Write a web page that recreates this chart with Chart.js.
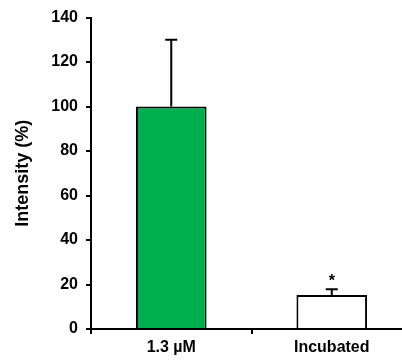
<!DOCTYPE html>
<html><head><meta charset="utf-8">
<script src="https://cdn.jsdelivr.net/npm/chart.js@4"></script>
<style>html,body{margin:0;padding:0;overflow:hidden;background:#fff;width:402px;height:362px}#w{width:416px;height:362px;position:relative}</style>
</head><body><div id="w"><canvas id="c"></canvas></div>
<script>
const categories = ['1.3 \u00B5M', 'Incubated'];
const values = [100, 15.3];
const errors = [30, 2.6];
const markers = ['', '*'];
const yTicks = [0, 20, 40, 60, 80, 100, 120, 140];
const barColors = ['#00B04F', '#FFFFFF'];

const errPlugin = {
  id: 'err',
  afterDatasetsDraw(chart) {
    const ctx = chart.ctx, x = chart.scales.x, y = chart.scales.y;
    ctx.save();
    ctx.strokeStyle = '#000'; ctx.lineWidth = 2; ctx.fillStyle = '#000';
    values.forEach((v, i) => {
      const px = x.getPixelForValue(i);
      const y0 = y.getPixelForValue(v), y1 = y.getPixelForValue(v + errors[i]);
      ctx.beginPath(); ctx.moveTo(px, y0); ctx.lineTo(px, y1);
      ctx.moveTo(px - 6, y1); ctx.lineTo(px + 6, y1); ctx.stroke();
      if (markers[i]) {
        ctx.font = 'bold 16px "Liberation Sans", Arial, sans-serif';
        ctx.textAlign = 'center'; ctx.textBaseline = 'alphabetic';
        ctx.fillText(markers[i], px, y1 - 3);
      }
    });
    ctx.restore();
  }
};

new Chart(document.getElementById('c'), {
  type: 'bar',
  data: { labels: categories, datasets: [{ data: values, backgroundColor: barColors, borderColor: '#000', borderWidth: 2, barPercentage: 0.44, categoryPercentage: 1 }] },
  options: {
    responsive: true, maintainAspectRatio: false, animation: false,
    layout: { padding: { top: 16, right: 4, left: 0, bottom: 0 } },
    plugins: { legend: { display: false }, tooltip: { enabled: false } },
    scales: {
      x: {
        offset: true,
        grid: { display: true, offset: true, drawOnChartArea: false, tickLength: 5, color: '#000', lineWidth: 2 },
        border: { color: '#000', width: 2 },
        ticks: { color: '#000', font: { family: '"Liberation Sans", Arial, sans-serif', weight: 'bold', size: 16 }, padding: 4 },
        afterFit(s) { s.height = 33; }
      },
      y: {
        min: 0, max: 140,
        afterBuildTicks(s) { s.ticks = yTicks.map(v => ({ value: v })); },
        grid: { drawOnChartArea: false, tickLength: 5, color: '#000', lineWidth: 2 },
        border: { color: '#000', width: 2 },
        ticks: { color: '#000', font: { family: '"Liberation Sans", Arial, sans-serif', weight: 'bold', size: 16 }, padding: 8 },
        title: { display: true, text: 'Intensity (%)', color: '#000', font: { family: '"Liberation Sans", Arial, sans-serif', weight: 'bold', size: 18 }, padding: { top: 12, bottom: 0 } },
        afterFit(s) { s.width = 91; }
      }
    }
  },
  plugins: [errPlugin]
});
</script></body></html>
